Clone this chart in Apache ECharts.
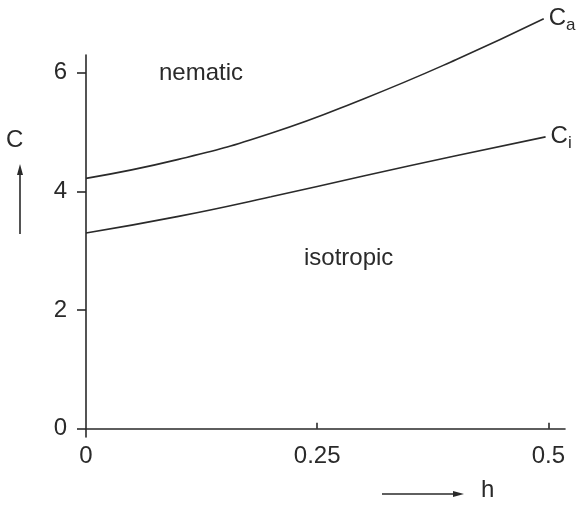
<!DOCTYPE html>
<html>
<head>
<meta charset="utf-8">
<script src="https://cdn.jsdelivr.net/npm/echarts@6/dist/echarts.min.js"></script>
<style>
  html, body { margin: 0; padding: 0; background: #fff; }
  #chart { width: 576px; height: 505px; }
</style>
</head>
<body>
<div id="chart"></div>
<script>
// h values and the two phase boundaries
const hA = [0, 0.1, 0.2, 0.3, 0.4, 0.495]
const cA = [4.22, 4.54, 4.98, 5.56, 6.22, 6.91]
const hI = [0, 0.1, 0.2, 0.3, 0.4, 0.497]
const cI = [3.3, 3.58, 3.91, 4.26, 4.6, 4.92]
const xTicks = [0, 0.25, 0.5]
const yTicks = [0, 2, 4, 6]

const font = '"Liberation Sans", Arial, sans-serif'
const ink = '#2a2a2a'

const chart = echarts.init(document.getElementById('chart'))

function pairs(xs, ys) { return xs.map((x, i) => [x, ys[i]]) }

function endLbl(sub) {
  return {
    show: true, distance: 5,
    formatter: () => '{c|C}{s|' + sub + '}',
    rich: {
      c: { fontFamily: font, fontSize: 24, color: ink },
      s: { fontFamily: font, fontSize: 17, color: ink, padding: [12, 0, 0, 0] }
    }
  }
}

chart.setOption({
  animation: false,
  grid: { left: 86, right: 11, top: 55, bottom: 68 },
  xAxis: {
    type: 'value', min: 0, max: 0.518,
    axisLine: { onZero: true, lineStyle: { color: ink, width: 1.6 } },
    axisTick: { inside: true, length: 6, customValues: [0.25, 0.5], lineStyle: { color: ink, width: 1.6 } },
    axisLabel: { customValues: xTicks, margin: 7, fontFamily: font, fontSize: 24, color: ink,
      formatter: v => String(v) },
    splitLine: { show: false }
  },
  yAxis: {
    type: 'value', min: -0.14, max: 6.3,
    axisLine: { show: true, lineStyle: { color: ink, width: 1.6 } },
    axisTick: { show: true, length: 9, customValues: yTicks, lineStyle: { color: ink, width: 1.6 } },
    axisLabel: { customValues: yTicks, margin: 19, fontFamily: font, fontSize: 24, color: ink },
    splitLine: { show: false }
  },
  series: [
    { type: 'line', data: pairs(hA, cA), smooth: true, symbol: 'none', clip: false,
      lineStyle: { color: ink, width: 1.6 }, endLabel: endLbl('a') },
    { type: 'line', data: pairs(hI, cI), smooth: true, symbol: 'none', clip: false,
      lineStyle: { color: ink, width: 1.6 }, endLabel: endLbl('i') }
  ],
  graphic: [
    { type: 'text', left: 159, top: 61, style: { text: 'nematic', font: '24px ' + font, fill: ink } },
    { type: 'text', left: 304, top: 246, style: { text: 'isotropic', font: '24px ' + font, fill: ink } },
    { type: 'text', left: 6, top: 128, style: { text: 'C', font: '24px ' + font, fill: ink } },
    { type: 'line', shape: { x1: 20, y1: 234, x2: 20, y2: 172 }, style: { stroke: ink, lineWidth: 1.6 } },
    { type: 'polygon', shape: { points: [[20, 164], [17, 175], [23, 175]] }, style: { fill: ink } },
    { type: 'line', shape: { x1: 382, y1: 494, x2: 455, y2: 494 }, style: { stroke: ink, lineWidth: 1.6 } },
    { type: 'polygon', shape: { points: [[464, 494], [453, 491], [453, 497]] }, style: { fill: ink } },
    { type: 'text', left: 481, top: 478, style: { text: 'h', font: '24px ' + font, fill: ink } }
  ]
})
</script>
</body>
</html>
